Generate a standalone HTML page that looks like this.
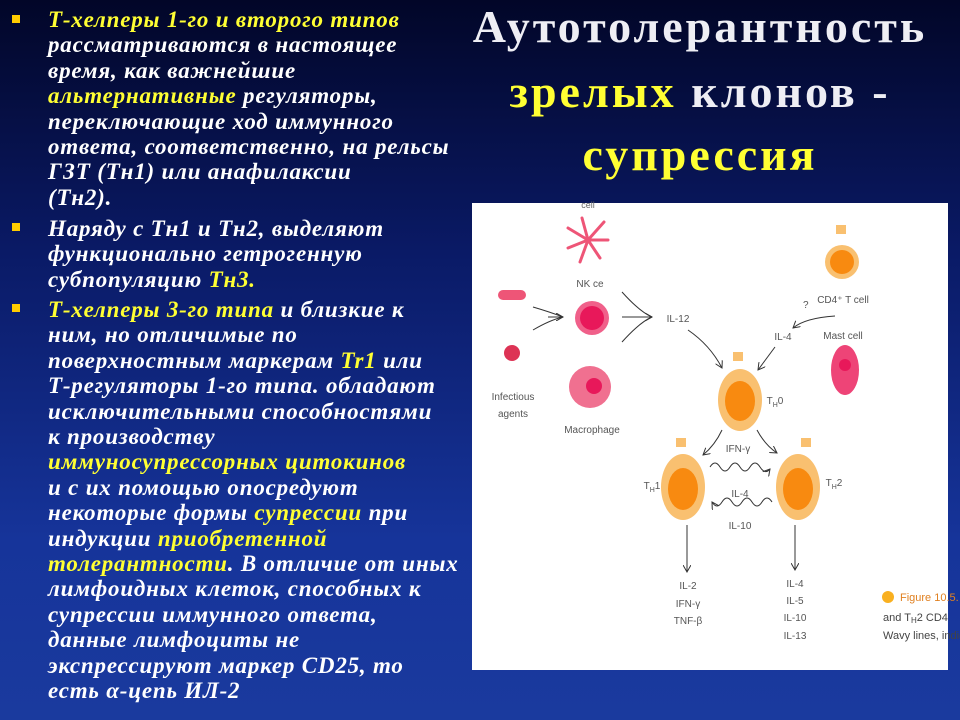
<!DOCTYPE html>
<html><head><meta charset="utf-8"><style>
html,body{margin:0;padding:0}
body{width:960px;height:720px;overflow:hidden;position:relative;background:linear-gradient(180deg,#020628 0%,#0a1a66 35%,#16349a 75%,#1a3a9e 100%);font-family:"Liberation Serif","Noto Serif CJK SC",serif}
.t{position:absolute;left:48px;color:#fff;font-weight:bold;font-style:italic;font-size:23px;letter-spacing:0.8px;line-height:25.4px;white-space:nowrap}
.y{color:#ffff33}
.b{position:absolute;left:12px;width:8px;height:8px;background:#ffcc00}
.title{position:absolute;left:450px;width:500px;text-align:center;color:#eeeef4;font-weight:bold;font-size:46px;letter-spacing:3px;line-height:60px;white-space:nowrap}
</style></head><body>
<div class="b" style="top:15px"></div>
<div class="t" style="top:7px"><span class="y">Т-хелперы 1-го и второго типов</span><br>рассматриваются в настоящее<br>время, как важнейшие<br><span class="y">альтернативные</span> регуляторы,<br>переключающие ход иммунного<br>ответа, соответственно, на рельсы<br>ГЗТ (Тн1) или анафилаксии<br>(Тн2).</div>
<div class="b" style="top:223px"></div>
<div class="t" style="top:216px">Наряду с Тн1 и Тн2, выделяют<br>функционально гетрогенную<br>субпопуляцию <span class="y">Тн3.</span></div>
<div class="b" style="top:304px"></div>
<div class="t" style="top:297px"><span class="y">Т-хелперы 3-го типа</span> и близкие к<br>ним, но отличимые по<br>поверхностным маркерам <span class="y">Tr1</span> или<br>Т-регуляторы 1-го типа. обладают<br>исключительными способностями<br>к производству<br><span class="y">иммуносупрессорных цитокинов</span><br>и с их помощью опосредуют<br>некоторые формы <span class="y">супрессии</span> при<br>индукции <span class="y">приобретенной</span><br><span class="y">толерантности</span>. В отличие от иных<br>лимфоидных клеток, способных к<br>супрессии иммунного ответа,<br>данные лимфоциты не<br>экспрессируют маркер CD25, то<br>есть α-цепь ИЛ-2</div>
<div class="title" style="top:-3px">Аутотолерантность</div>
<div class="title" style="top:62px"><span class="y">зрелых</span> клонов -</div>
<div class="title" style="top:125px"><span class="y">супрессия</span></div>
<svg style="position:absolute;left:0;top:0" width="960" height="720" font-family="Liberation Sans, sans-serif">
<defs><marker id="a" markerWidth="8" markerHeight="8" refX="7" refY="4" orient="auto"><path d="M0,0 L7,4 L0,8" fill="none" stroke="#333" stroke-width="1"/></marker></defs>
<rect x="472" y="203" width="476" height="467" fill="#fff"/>
<g fill="#ee5577" stroke="#ee5577" stroke-width="3" stroke-linecap="round">
<path d="M588 240 L582 218 M588 240 L604 222 M588 240 L608 240 M588 240 L600 258 M588 240 L580 262 M588 240 L568 248 M588 240 L568 228" fill="none"/>
</g>
<text x="588" y="208" font-size="9" fill="#666" text-anchor="middle">cell</text>
<text x="590" y="287" font-size="10" fill="#555" text-anchor="middle">NK ce</text>
<rect x="498" y="290" width="28" height="10" rx="5" fill="#ee5577"/>
<circle cx="512" cy="353" r="8" fill="#dd3355"/>
<text x="513" y="400" font-size="10" fill="#555" text-anchor="middle">Infectious</text>
<text x="513" y="417" font-size="10" fill="#555" text-anchor="middle">agents</text>
<circle cx="592" cy="318" r="17" fill="#f0608a"/><circle cx="592" cy="318" r="12" fill="#e8185a"/>
<circle cx="590" cy="387" r="21" fill="#f07090"/><circle cx="594" cy="386" r="8" fill="#e8185a"/>
<text x="592" y="433" font-size="10" fill="#555" text-anchor="middle">Macrophage</text>
<g fill="none" stroke="#333" stroke-width="1">
<path d="M533 307 Q550 312 563 317 M533 330 Q550 320 563 317" /><path d="M548 317 L563 317" marker-end="url(#a)"/>
<path d="M622 292 Q640 312 652 317 M622 342 Q640 322 652 317"/><path d="M622 317 L652 317" marker-end="url(#a)"/>
<path d="M688 330 Q710 345 722 368" marker-end="url(#a)"/>
<path d="M835 316 Q805 318 793 328" marker-end="url(#a)"/>
<path d="M775 347 L758 370" marker-end="url(#a)"/>
<path d="M722 430 Q715 445 703 455" marker-end="url(#a)"/>
<path d="M757 430 Q765 445 777 453" marker-end="url(#a)"/>
<path d="M710 467 q5 -8 10 0 t10 0 t10 0 t10 0 t10 0 t10 2" marker-end="url(#a)"/>
<path d="M772 502 q-5 -8 -10 0 t-10 0 t-10 0 t-10 0 t-10 0 t-10 0" marker-end="url(#a)"/>
<path d="M687 525 L687 572" marker-end="url(#a)"/>
<path d="M795 525 L795 570" marker-end="url(#a)"/>
</g>
<text x="678" y="322" font-size="10" fill="#555" text-anchor="middle">IL-12</text>
<circle cx="842" cy="262" r="17" fill="#f9c070"/><circle cx="842" cy="262" r="12" fill="#f88a10"/>
<text x="843" y="303" font-size="10" fill="#555" text-anchor="middle">CD4⁺ T cell</text>
<text x="803" y="308" font-size="10" fill="#555">?</text>
<text x="783" y="340" font-size="10" fill="#555" text-anchor="middle">IL-4</text>
<text x="843" y="339" font-size="10" fill="#555" text-anchor="middle">Mast cell</text>
<ellipse cx="845" cy="370" rx="14" ry="25" fill="#ee4477"/><circle cx="845" cy="365" r="6" fill="#e8185a"/>
<g fill="#f9c070"><ellipse cx="740" cy="400" rx="22" ry="31"/><ellipse cx="683" cy="487" rx="22" ry="33"/><ellipse cx="798" cy="487" rx="22" ry="33"/></g>
<g fill="#f88a10"><ellipse cx="740" cy="401" rx="15" ry="20"/><ellipse cx="683" cy="489" rx="15" ry="21"/><ellipse cx="798" cy="489" rx="15" ry="21"/></g>
<g fill="#f9c070"><rect x="733" y="352" width="10" height="9"/><rect x="676" y="438" width="10" height="9"/><rect x="801" y="438" width="10" height="9"/><rect x="836" y="225" width="10" height="9"/></g>
<g font-size="10" fill="#555" text-anchor="middle">
<text x="775" y="404">T<tspan font-size="7" dy="3">H</tspan><tspan dy="-3">0</tspan></text>
<text x="652" y="489">T<tspan font-size="7" dy="3">H</tspan><tspan dy="-3">1</tspan></text>
<text x="834" y="486">T<tspan font-size="7" dy="3">H</tspan><tspan dy="-3">2</tspan></text>
<text x="738" y="452">IFN-γ</text><text x="740" y="497">IL-4</text><text x="740" y="529">IL-10</text>
<text x="688" y="589">IL-2</text><text x="688" y="607">IFN-γ</text><text x="688" y="624">TNF-β</text>
<text x="795" y="587">IL-4</text><text x="795" y="604">IL-5</text><text x="795" y="621">IL-10</text><text x="795" y="639">IL-13</text>
</g>
<circle cx="888" cy="597" r="6" fill="#f9b020"/>
<text x="900" y="601" font-size="11" fill="#e08020">Figure 10.5.  C</text>
<text x="883" y="621" font-size="11" fill="#444">and T<tspan font-size="8" dy="2">H</tspan><tspan dy="-2">2 CD4</tspan></text>
<text x="883" y="639" font-size="11" fill="#444">Wavy lines, indica</text>
</svg>
</body></html>
